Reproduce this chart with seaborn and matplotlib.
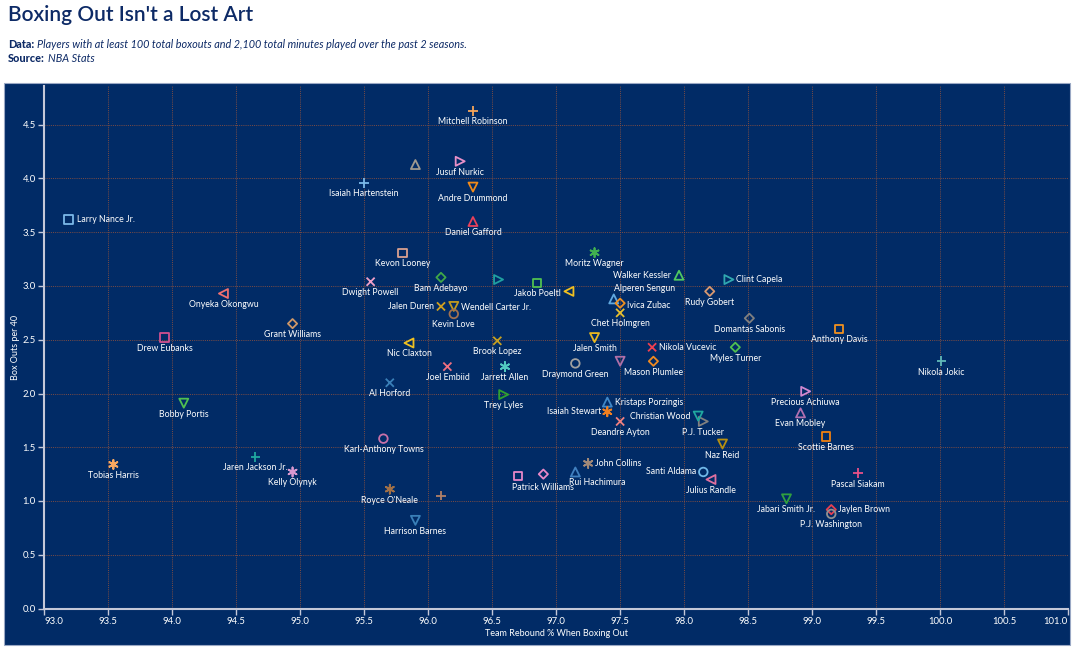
import numpy as np
import pandas as pd
import matplotlib
matplotlib.use("Agg")
import matplotlib.pyplot as plt
import seaborn as sns
from matplotlib.patches import Rectangle
from matplotlib.markers import MarkerStyle

# ---------------- data ----------------
players = [
    "Larry Nance Jr.", "Mitchell Robinson", "", "Jusuf Nurkic", "Isaiah Hartenstein",
    "Andre Drummond", "Daniel Gafford", "Kevon Looney", "Moritz Wagner", "Dwight Powell",
    "Bam Adebayo", "", "Jakob Poeltl", "Walker Kessler", "Clint Capela",
    "", "Rudy Gobert", "Alperen Sengun", "Ivica Zubac", "Chet Holmgren",
    "Jalen Duren", "Wendell Carter Jr.", "Kevin Love", "Onyeka Okongwu", "Grant Williams",
    "Drew Eubanks", "Nic Claxton", "Brook Lopez", "Domantas Sabonis", "Anthony Davis",
    "Nikola Vucevic", "Myles Turner", "Jalen Smith", "", "Mason Plumlee",
    "Nikola Jokic", "Joel Embiid", "Jarrett Allen", "Draymond Green", "Al Horford",
    "Precious Achiuwa", "Trey Lyles", "Bobby Portis", "Kristaps Porzingis", "Isaiah Stewart",
    "Evan Mobley", "Christian Wood", "P.J. Tucker", "Deandre Ayton", "Scottie Barnes",
    "Karl-Anthony Towns", "Naz Reid", "Jaren Jackson Jr.", "Tobias Harris", "Kelly Olynyk",
    "John Collins", "Santi Aldama", "Rui Hachimura", "Patrick Williams", "",
    "Julius Randle", "Pascal Siakam", "Royce O'Neale", "", "Jabari Smith Jr.",
    "Jaylen Brown", "P.J. Washington", "Harrison Barnes",
]
team_reb_pct = [
    93.19, 96.35, 95.90, 96.25, 95.50,
    96.35, 96.35, 95.80, 97.30, 95.55,
    96.10, 96.55, 96.85, 97.96, 98.35,
    97.10, 98.20, 97.45, 97.50, 97.50,
    96.10, 96.20, 96.20, 94.40, 94.94,
    93.94, 95.85, 96.54, 98.51, 99.21,
    97.75, 98.40, 97.30, 97.50, 97.76,
    100.01, 96.15, 96.60, 97.15, 95.70,
    98.95, 96.59, 94.09, 97.40, 97.40,
    98.91, 98.11, 98.15, 97.50, 99.11,
    95.65, 98.30, 94.65, 93.54, 94.94,
    97.25, 98.15, 97.15, 96.70, 96.90,
    98.21, 99.36, 95.70, 96.10, 98.80,
    99.15, 99.15, 95.90,
]
box_outs_per40 = [
    3.62, 4.63, 4.13, 4.16, 3.96,
    3.92, 3.60, 3.31, 3.31, 3.04,
    3.08, 3.06, 3.03, 3.10, 3.06,
    2.95, 2.95, 2.88, 2.84, 2.75,
    2.81, 2.81, 2.74, 2.93, 2.65,
    2.52, 2.47, 2.49, 2.70, 2.60,
    2.43, 2.43, 2.52, 2.30, 2.30,
    2.30, 2.25, 2.25, 2.28, 2.10,
    2.02, 1.99, 1.91, 1.92, 1.83,
    1.82, 1.79, 1.74, 1.74, 1.60,
    1.58, 1.53, 1.41, 1.34, 1.27,
    1.35, 1.27, 1.27, 1.23, 1.25,
    1.20, 1.26, 1.11, 1.05, 1.02,
    0.92, 0.88, 0.82,
]
x_ticks = [93.0, 93.5, 94.0, 94.5, 95.0, 95.5, 96.0, 96.5, 97.0, 97.5,
           98.0, 98.5, 99.0, 99.5, 100.0, 100.5, 101.0]
y_ticks = [0.0, 0.5, 1.0, 1.5, 2.0, 2.5, 3.0, 3.5, 4.0, 4.5]

# ---------------- styles ----------------
marker_codes = [
    "s", "+", "^", ">", "+",
    "v", "^", "s", "*", "x",
    "D", ">", "s", "^", ">",
    "<", "D", "^", "D", "x",
    "x", "v", "o", "<", "D",
    "s", "<", "x", "D", "s",
    "x", "D", "v", "v", "D",
    "+", "x", "*", "o", "x",
    ">", ">", "v", "^", "*",
    "^", "v", ">", "x", "s",
    "o", "v", "+", "*", "*",
    "*", "o", "^", "s", "D",
    "<", "+", "*", "+", "v",
    "D", "o", "v",
]
point_colors = [
    "#7ab8e8", "#f5a55a", "#a09a90", "#e890c8", "#7ab8e8",
    "#f08a1a", "#e8405a", "#d8a090", "#40b050", "#f0a0c8",
    "#40a848", "#20a0a0", "#50c050", "#50c860", "#30a8b0",
    "#f0c020", "#d89870", "#60a8e0", "#f09020", "#e8c030",
    "#d0a020", "#c09a20", "#a07050", "#f07070", "#d09868",
    "#d05090", "#f0c020", "#c8a020", "#808080", "#f09020",
    "#f04050", "#50c050", "#e8b820", "#b070a8", "#f08a20",
    "#60b8b8", "#f07080", "#50c8c0", "#a0a0a0", "#3a80b8",
    "#d088d0", "#30a030", "#50c050", "#4088c8", "#f08020",
    "#b070b0", "#20a8a0", "#808080", "#f08080", "#f08010",
    "#c870a8", "#b89010", "#20a8a0", "#f8a860", "#d898d0",
    "#a08878", "#70b8e8", "#4080c0", "#e888c8", "#e888c8",
    "#e070a0", "#e85088", "#a07048", "#b08068", "#30a040",
    "#e84050", "#909090", "#3a80b8",
]
# label placement in pixels: (dx, dy, ha); default is centred below
label_place = {
    "Larry Nance Jr.": (8, 0, "left"),
    "Walker Kessler": (-8, 0, "right"),
    "Clint Capela": (7, 0, "left"),
    "Alperen Sengun": (31, 10, "center"),
    "Ivica Zubac": (7, -2, "left"),
    "Jalen Duren": (-7, 0, "right"),
    "Wendell Carter Jr.": (7, -1, "left"),
    "Nikola Vucevic": (7, 0, "left"),
    "Kristaps Porzingis": (8, 0, "left"),
    "Isaiah Stewart": (-6, 0, "right"),
    "Christian Wood": (-8, 0, "right"),
    "John Collins": (7, 0, "left"),
    "Santi Aldama": (-7, 0, "right"),
    "Rui Hachimura": (22, -11, "center"),
    "Patrick Williams": (25, -11, "center"),
    "Jaylen Brown": (7, 0, "left"),
}

NAVY = "#012b66"
TITLE_NAVY = "#0d2a66"
GRID = "#8a5040"
SPINE = "#c4c8d8"
FONT = ["Lato", "DejaVu Sans"]

sns.set_theme(style="white")
plt.rcParams["font.family"] = FONT

df = pd.DataFrame({
    "pid": [f"p{i}" for i in range(len(players))],
    "name": players,
    "x": team_reb_pct,
    "y": box_outs_per40,
    "marker": marker_codes,
    "color": point_colors,
})

W, H = 1073, 648
fig = plt.figure(figsize=(W / 100, H / 100), dpi=100)
fig.patch.set_facecolor("white")

# navy panel (behind the axes)
bg = Rectangle((4 / W, (H - 645) / H), (1070 - 4) / W, (645 - 83) / H,
               transform=fig.transFigure, facecolor=NAVY,
               edgecolor="#9aa8c4", linewidth=0.8, zorder=-10)
fig.patches.append(bg)

ax_l, ax_r, ax_b, ax_t = 44.3, 1068.0, 608.5, 86.0
ax_w, ax_h = ax_r - ax_l, ax_b - ax_t
ax = fig.add_axes([ax_l / W, (H - ax_b) / H, ax_w / W, ax_h / H])
ax.set_facecolor("none")
ax.set_zorder(5)

marker_map = {"*": (6, 2, 0)}
size_map = {"s": 36, "^": 42, "v": 42, "<": 42, ">": 42, "D": 22, "o": 38,
            "+": 48, "x": 34, "*": 42}

for m in df["marker"].unique():
    sub = df[df["marker"] == m]
    mk = marker_map.get(m, m)
    sns.scatterplot(data=sub, x="x", y="y", hue="pid",
                    palette=dict(zip(sub["pid"], sub["color"])),
                    marker=mk, s=size_map[m], linewidth=1.3, legend=False,
                    ax=ax, zorder=3)
    coll = ax.collections[-1]
    if MarkerStyle(mk).is_filled():
        fc = coll.get_facecolors()
        coll.set_edgecolors(fc)
        coll.set_facecolors("none")
        coll.set_linewidths(1.3)

for _, r in df.iterrows():
    if not r["name"]:
        continue
    dx, dy, ha = label_place.get(r["name"], (0, -11, "center"))
    ax.annotate(r["name"], (r["x"], r["y"]), xytext=(dx, dy),
                textcoords="offset pixels", ha=ha, va="center",
                color="white", fontsize=6.3, zorder=4)

ax.set_xlim(93.0, 101.0)
ax.set_ylim(0.0, ax_h / 107.5)
ax.set_xticks(x_ticks)
ax.set_yticks(y_ticks)
ax.set_xticklabels([f"{v:.1f}" for v in x_ticks])
ax.set_yticklabels([f"{v:.1f}" for v in y_ticks])
xl = ax.get_xticklabels()
xl[0].set_ha("left")
xl[-1].set_ha("right")

ax.grid(True, color=GRID, linestyle=(0, (1, 1.2)), linewidth=0.7, alpha=0.9)
ax.set_axisbelow(True)
for s in ["top", "right"]:
    ax.spines[s].set_visible(False)
for s in ["left", "bottom"]:
    ax.spines[s].set_color(SPINE)
    ax.spines[s].set_linewidth(1.5)
ax.tick_params(axis="both", colors=SPINE, labelcolor="white", labelsize=6.8,
               length=4, width=1, direction="out", pad=2,
               bottom=True, left=True)

ax.set_xlabel("Team Rebound % When Boxing Out", color="white", fontsize=6.5)
ax.xaxis.set_label_coords(0.5, -(634 - ax_b) / ax_h)
ax.set_ylabel("Box Outs per 40", color="white", fontsize=6.5)
ax.yaxis.set_label_coords(-(ax_l - 15) / ax_w, 0.5)
ax.xaxis.label.set_va("center")
ax.yaxis.label.set_va("center")

# titles
fig.text(8 / W, 1 - 15 / H, "Boxing Out Isn't a Lost Art", color=TITLE_NAVY,
         fontsize=15, fontweight="semibold", ha="left", va="center")
renderer = fig.canvas.get_renderer()
t1 = fig.text(8 / W, 1 - 45 / H, "Data:", color=TITLE_NAVY, fontsize=7.8,
              fontweight="black", ha="left", va="center")
bb = t1.get_window_extent(renderer)
fig.text(bb.x1 / W + 3 / W, 1 - 45 / H,
         "Players with at least 100 total boxouts and 2,100 total minutes played over the past 2 seasons.",
         color=TITLE_NAVY, fontsize=7.8, style="italic", ha="left", va="center")
t2 = fig.text(8 / W, 1 - 58 / H, "Source:", color=TITLE_NAVY, fontsize=7.8,
              fontweight="black", ha="left", va="center")
bb2 = t2.get_window_extent(renderer)
fig.text(bb2.x1 / W + 3 / W, 1 - 58 / H, "NBA Stats", color=TITLE_NAVY,
         fontsize=7.8, style="italic", ha="left", va="center")

fig.savefig("out.png", dpi=100, facecolor="white")
